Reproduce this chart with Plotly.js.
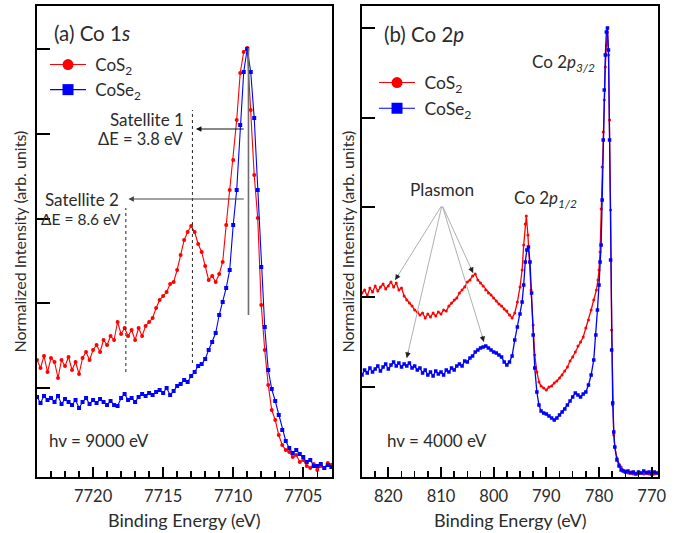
<!DOCTYPE html>
<html>
<head>
<meta charset="utf-8">
<script src="https://cdn.plot.ly/plotly-3.0.1.min.js"></script>
<style>html,body{margin:0;padding:0;background:#fff;}#chart{width:684px;height:533px;}</style>
</head>
<body>
<div id="chart"></div>
<script>
// ---------- (a) Co 1s data ----------
const co1sEnergy = [
7724,7723.75,7723.5,7723.25,7723,7722.75,7722.5,7722.25,7722,7721.75,
7721.5,7721.25,7721,7720.75,7720.5,7720.25,7720,7719.75,7719.5,7719.25,
7719,7718.75,7718.5,7718.25,7718,7717.75,7717.5,7717.25,7717,7716.75,
7716.5,7716.25,7716,7715.75,7715.5,7715.25,7715,7714.75,7714.5,7714.25,
7714,7713.75,7713.5,7713.25,7713,7712.75,7712.5,7712.25,7712,7711.75,
7711.5,7711.25,7711,7710.75,7710.5,7710.25,7710,7709.75,7709.5,7709.25,
7709,7708.75,7708.5,7708.25,7708,7707.75,7707.5,7707.25,7707,7706.75,
7706.5,7706.25,7706,7705.75,7705.5,7705.25,7705,7704.75,7704.5,7704.25,
7704,7703.75,7703.5,7703.25,7703];
const co1sCoS2 = [
117,109,121,105,119,115,99,117,111,120,
107,115,103,119,125,117,127,132,125,137,
132,141,137,155,143,149,141,147,137,149,
141,151,155,159,169,177,181,185,193,195,
207,222,237,245,251,245,233,225,211,197,
201,195,203,215,252,287,317,357,404,425,
429,367,302,259,172,127,92,67,57,42,
32,27,25,20,22,15,17,11,9,13,
7,11,9,14,12];
const co1sCoSe2 = [
80,74,81,77,79,75,81,73,78,75,
72,77,69,75,79,73,77,74,78,75,
72,76,72,71,79,83,77,79,75,80,
83,81,84,82,85,87,84,89,82,86,
91,93,97,95,101,105,111,113,118,127,
135,144,162,175,189,207,252,287,352,405,
428,405,359,287,210,150,107,88,76,62,
47,36,29,24,27,23,20,15,17,11,
11,13,9,12,10];

// ---------- (b) Co 2p data ----------
const co2pEnergyCoS2 = [
825,824.5,824,823.5,823,822.5,822,821.5,821,820.5,
820,819.5,819,818.5,818,817.5,817,816.5,816,815.5,
815,814.5,814,813.5,813,812.5,812,811.5,811,810.5,
810,809.5,809,808.5,808,807.5,807,806.5,806,805.5,
805,804.5,804,803.5,803,802.5,802,801.5,801,800.5,
800,799.5,799,798.5,798,797.5,797,796.5,796,795.5,
795,794.6,794.3,794.0,793.8,793.5,793.2,792.9,792.5,792.2,
791.8,791.4,791,790.5,790,789.5,789,788.5,788,787.5,
787,786.5,786,785.5,785,784.5,784,783.5,783,782.5,
782,781.5,781,780.5,780.2,780,779.8,779.6,779.4,779.2,
779,778.8,778.6,778.4,778.2,778,777.8,777.6,777.4,777.2,
777,776.6,776.2,775.8,775.4,775,774.5,774,773.5,773,
772.5,772,771.5,771,770.5,770,769.5,769];
const co2pCoS2 = [
184,187,181,189,185,191,186,190,193,188,
191,195,190,194,187,189,181,177,174,171,
167,165,162,164,159,163,160,164,161,165,
163,167,166,171,174,177,179,184,187,190,
195,197,201,203,197,194,191,187,184,182,
179,176,173,171,168,166,162,159,164,175,
190,207,232,253,261,242,215,187,152,122,
105,95,91,89,87,90,91,94,96,99,
102,106,110,116,120,125,131,135,140,149,
157,167,177,187,197,207,225,268,310,345,
377,410,432,445,422,357,267,147,72,42,
30,19,13,10,7,6,4,5,3,4,
3,4,3,5,3,4,3,4];
const co2pEnergyCoSe2 = [
825,824.5,824,823.5,823,822.5,822,821.5,821,820.5,
820,819.5,819,818.5,818,817.5,817,816.5,816,815.5,
815,814.5,814,813.5,813,812.5,812,811.5,811,810.5,
810,809.5,809,808.5,808,807.5,807,806.5,806,805.5,
805,804.5,804,803.5,803,802.5,802,801.5,801,800.5,
800,799.5,799,798.5,798,797.5,797,796.5,796,795.5,
795,794.6,794.3,794.0,793.7,793.4,793.1,792.8,792.5,792.2,
791.8,791.4,791,790.5,790,789.5,789,788.5,788,787.5,
787,786.5,786,785.5,785,784.5,784,783.5,783,782.5,
782,781.5,781,780.6,780.3,780,779.8,779.6,779.4,779.2,
779,778.8,778.6,778.4,778.2,778,777.8,777.6,777.4,777.2,
777,776.6,776.2,775.8,775.4,775,774.5,774,773.5,773,
772.5,772,771.5,771,770.5,770,769.5,769];
const co2pCoSe2 = [
102,107,104,109,105,108,111,106,110,113,
108,112,115,111,114,110,113,111,114,109,
111,107,109,104,107,102,105,101,106,103,
105,102,107,105,109,107,111,113,111,116,
115,119,121,125,127,129,130,131,129,127,
125,124,122,120,115,112,115,121,137,150,
163,175,192,215,227,230,215,184,142,109,
85,72,66,64,63,61,59,57,59,62,
65,68,72,76,80,84,82,80,83,85,
92,102,117,142,167,192,215,232,277,337,
387,422,445,449,427,337,217,127,74,45,
30,17,11,7,6,5,6,4,5,3,
5,4,6,4,5,3,5,4];

const seriesNames = ['\u00a0CoS<sub>2</sub>', '\u00a0CoSe<sub>2</sub>'];
const leftTickVals = [89, 173.7, 258.4, 343.1, 427.8];
const rightTickVals = [90.3, 180, 269.7, 359.4, 449.1];

// ---------- styling ----------
const RED = '#ff0000', BLUE = '#0000ff';
const FONT = 'Lato, "Open Sans", sans-serif';
const TXT = '#2b2b2b';

function dataTrace(x, y, color, symbol, size, xa, ya, lw) {
  return {x: x, y: y, xaxis: xa, yaxis: ya, type: 'scatter', mode: 'lines+markers',
    line: {color: color, width: lw || 1.1}, marker: {color: color, symbol: symbol, size: size},
    showlegend: false, hoverinfo: 'skip'};
}
function legendTrace(name, color, symbol, xa, ya, leg) {
  return {x: [null], y: [null], xaxis: xa, yaxis: ya, type: 'scatter', mode: 'lines+markers',
    name: name, legend: leg, line: {color: color, width: 1.1},
    marker: {color: color, symbol: symbol, size: 11}, showlegend: true};
}

const traces = [
  dataTrace(co1sEnergy, co1sCoS2, RED, 'circle', 4, 'x', 'y'),
  dataTrace(co1sEnergy, co1sCoSe2, BLUE, 'square', 4, 'x', 'y'),
  dataTrace(co2pEnergyCoS2, co2pCoS2, RED, 'circle', 3, 'x2', 'y2', 1.3),
  dataTrace(co2pEnergyCoSe2, co2pCoSe2, BLUE, 'square', 3.5, 'x2', 'y2', 1.3),
  legendTrace(seriesNames[0], RED, 'circle', 'x', 'y', 'legend'),
  legendTrace(seriesNames[1], BLUE, 'square', 'x', 'y', 'legend'),
  legendTrace(seriesNames[0], RED, 'circle', 'x2', 'y2', 'legend2'),
  legendTrace(seriesNames[1], BLUE, 'square', 'x2', 'y2', 'legend2')
];

const xBase = {
  ticks: 'inside', ticklen: 10, tickwidth: 2, tickcolor: '#000',
  showline: true, linewidth: 2, linecolor: '#000', mirror: true,
  showgrid: false, zeroline: false, autorange: false, ticklabelstandoff: 3,
  tickfont: {family: FONT, size: 16.5, color: TXT}
};
const yBase = {
  ticks: 'inside', ticklen: 13, tickwidth: 2, tickcolor: '#000',
  showline: true, linewidth: 2, linecolor: '#000', mirror: true,
  showgrid: false, zeroline: false, showticklabels: false,
  range: [0, 471], autorange: false, tickmode: 'array'
};

function txt(xr, yr, x, y, text, size, anchor, extra) {
  return Object.assign({xref: xr, yref: yr, x: x, y: y, text: text, showarrow: false,
    xanchor: anchor || 'left', yanchor: 'middle',
    font: {family: FONT, size: size, color: TXT}}, extra || {});
}
function arrow(xr, yr, x, y, ax, ay, color, head) {
  return {xref: xr, yref: yr, axref: xr, ayref: yr, x: x, y: y, ax: ax, ay: ay,
    text: '', showarrow: true, arrowhead: head, arrowsize: 1.1, arrowwidth: 1,
    arrowcolor: color, standoff: 0, startstandoff: 0};
}

const annotations = [
  txt('x', 'y', 7722.93, 444, '(a) Co 1<i>s</i>', 20.5),
  txt('x', 'y', 7713.43, 358, 'Satellite 1', 17, 'right', {borderpad: 0}),
  txt('x', 'y', 7713.5, 338, '\u0394E = 3.8 eV', 16.5, 'right', {borderpad: 0}),
  txt('x', 'y', 7718.07, 278, 'Satellite 2', 17, 'right', {borderpad: 0}),
  txt('x', 'y', 7717.95, 258, '\u0394E = 8.6 eV', 15.5, 'right', {borderpad: 0}),
  txt('x', 'y', 7723.31, 37, 'hv = 9000 eV', 17),
  arrow('x', 'y', 7712.66, 348, 7709.14, 348, '#111', 2),
  arrow('x', 'y', 7717.48, 278, 7709.14, 278, '#444', 2),
  txt('x2', 'y2', 821.2, 443, '(b) Co 2<i>p</i>', 20.5),
  txt('x2', 'y2', 780.4, 414, 'Co 2<i>p</i><sub><i>3/2</i></sub>', 17, 'right'),
  txt('x2', 'y2', 796.5, 278, 'Co 2<i>p</i><sub><i>1/2</i></sub>', 17),
  txt('x2', 'y2', 809.8, 288, 'Plasmon', 17.3, 'center'),
  txt('x2', 'y2', 820.6, 37, 'hv = 4000 eV', 17),
  txt('x domain', 'paper', 0.5, -0.091, 'Binding Energy (eV)', 18, 'center', {xref: 'x domain'}),
  txt('x2 domain', 'paper', 0.5, -0.091, 'Binding Energy (eV)', 18, 'center', {xref: 'x2 domain'}),
  txt('paper', 'paper', -0.0274, 0.5, 'Normalized Intensity (arb. units)', 16, 'center', {textangle: -90}),
  txt('paper', 'paper', 0.5008, 0.5, 'Normalized Intensity (arb. units)', 16, 'center', {textangle: -90})
];

// plasmon pointers: grey leader line plus small dark head at the tip
const plasmonOrigin = [809.8, 272];
const plasmonTips = [[818.7, 197], [803.9, 204], [816.5, 119], [801.85, 135]];
const pxPerEv = 296 / 56.2;
plasmonTips.forEach(function (t) {
  annotations.push(arrow('x2', 'y2', t[0], t[1], plasmonOrigin[0], plasmonOrigin[1], '#b0b0b0', 0));
  const dx = (plasmonOrigin[0] - t[0]) * pxPerEv, dy = plasmonOrigin[1] - t[1];
  const f = 8 / Math.hypot(dx, dy);
  annotations.push(arrow('x2', 'y2', t[0], t[1], t[0] + f * (plasmonOrigin[0] - t[0]),
    t[1] + f * (plasmonOrigin[1] - t[1]), '#222', 2));
});

const shapes = [
  {type: 'line', xref: 'x', yref: 'y', x0: 7712.91, x1: 7712.91, y0: 114, y1: 367,
   line: {color: '#222', width: 1, dash: 'dot'}},
  {type: 'line', xref: 'x', yref: 'y', x0: 7717.66, x1: 7717.66, y0: 105, y1: 269,
   line: {color: '#222', width: 1, dash: 'dot'}},
  {type: 'line', xref: 'x', yref: 'y', x0: 7708.91, x1: 7708.91, y0: 162, y1: 429,
   line: {color: '#6e6e6e', width: 1.6}}
];

const legendBase = {
  xanchor: 'left', yanchor: 'top', bgcolor: 'rgba(0,0,0,0)', borderwidth: 0,
  itemsizing: 'trace', itemwidth: 36, tracegroupgap: 0
};

const layout = {
  width: 684, height: 533,
  margin: {l: 37, r: 26, t: 6, b: 56, pad: 0},
  paper_bgcolor: '#fff', plot_bgcolor: '#fff',
  showlegend: true,
  xaxis: Object.assign({}, xBase, {domain: [0, 0.47504], anchor: 'y', range: [7724, 7702.95],
    tickmode: 'linear', tick0: 7705, dtick: 5,
    minor: {tick0: 7705, dtick: 1, ticks: 'inside', ticklen: 6, tickwidth: 1.5, tickcolor: '#000', showgrid: false}}),
  yaxis: Object.assign({}, yBase, {domain: [0, 1], anchor: 'x', tickvals: leftTickVals}),
  xaxis2: Object.assign({}, xBase, {domain: [0.52335, 1], anchor: 'y2', range: [825, 768.8],
    tickmode: 'linear', tick0: 770, dtick: 10,
    minor: {tick0: 770, dtick: 2.5, ticks: 'inside', ticklen: 6, tickwidth: 1.5, tickcolor: '#000', showgrid: false}}),
  yaxis2: Object.assign({}, yBase, {domain: [0, 1], anchor: 'x2', tickvals: rightTickVals}),
  legend: Object.assign({}, legendBase, {x: 0.0129, y: 0.913, font: {family: FONT, size: 17, color: TXT}}),
  legend2: Object.assign({}, legendBase, {x: 0.5427, y: 0.8755, font: {family: FONT, size: 17.5, color: TXT}}),
  annotations: annotations,
  shapes: shapes
};

Plotly.newPlot('chart', traces, layout, {displayModeBar: false, staticPlot: true});
</script>
</body>
</html>
